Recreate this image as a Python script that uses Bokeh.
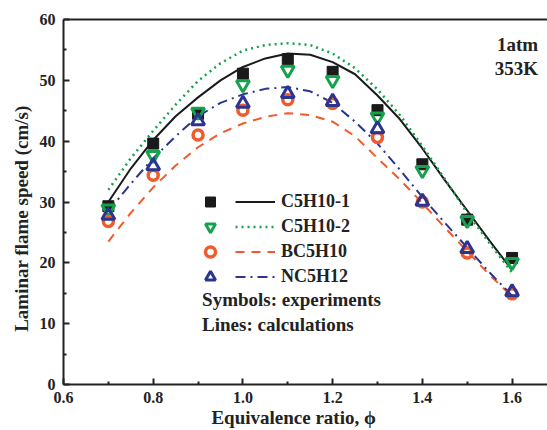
from bokeh.plotting import figure
from bokeh.models import (Range1d, FixedTicker, LinearAxis, Legend, LegendItem, Label,
                          PrintfTickFormatter)
from bokeh.embed import file_html
from bokeh.resources import INLINE

# ---------------- data ----------------
phi_exp = [0.7, 0.8, 0.9, 1.0, 1.1, 1.2, 1.3, 1.4, 1.5, 1.6]
exp_c5h10_1 = [29.3, 39.6, 44.5, 51.1, 53.5, 51.4, 45.1, 36.2, 27.1, 20.8]
exp_c5h10_2 = [28.9, 37.7, 44.8, 49.3, 51.7, 50.0, 44.0, 35.2, 27.0, 20.1]
exp_bc5h10 = [26.8, 34.4, 41.0, 45.1, 46.8, 46.2, 40.6, 30.0, 21.6, 14.9]
exp_nc5h12 = [27.8, 35.9, 43.3, 46.2, 47.8, 46.5, 42.0, 30.1, 22.3, 15.2]

phi_calc = [0.70, 0.75, 0.80, 0.85, 0.90, 0.95, 1.00, 1.05, 1.10, 1.15,
            1.20, 1.25, 1.30, 1.35, 1.40, 1.45, 1.50, 1.55, 1.60]
calc_c5h10_1 = [30.0, 35.5, 40.2, 44.1, 47.2, 50.0, 52.2, 53.6, 54.4, 54.2,
                53.0, 51.0, 47.5, 43.6, 38.8, 33.6, 28.6, 23.6, 18.8]
calc_c5h10_2 = [32.0, 37.2, 41.7, 46.0, 49.9, 52.8, 54.9, 55.8, 56.1, 55.8,
                54.4, 52.0, 48.5, 44.3, 39.2, 33.8, 28.2, 23.2, 18.4]
calc_bc5h10 = [23.5, 28.2, 32.4, 36.0, 39.0, 41.3, 42.9, 44.0, 44.6, 44.3,
               43.2, 40.8, 37.2, 33.7, 29.8, 25.8, 21.9, 18.0, 14.5]
calc_nc5h12 = [28.5, 33.0, 37.2, 40.8, 44.1, 46.3, 47.7, 48.6, 48.9, 48.2,
               46.3, 43.2, 39.6, 35.3, 30.8, 26.6, 22.5, 18.4, 14.6]

series_names = ["C5H10-1", "C5H10-2", "BC5H10", "NC5H12"]
x_major_ticks = [0.6, 0.8, 1.0, 1.2, 1.4, 1.6]
x_minor_ticks = [0.7, 0.9, 1.1, 1.3, 1.5]
y_major_ticks = [0, 10, 20, 30, 40, 50, 60]
y_minor_ticks = [5, 15, 25, 35, 45, 55]

# ---------------- style ----------------
FONT = "Liberation Serif"
BLACK = "#1a1a1a"
GREEN = "#14a24c"
RED = "#f15a2b"
BLUE = "#2b3590"
AX = "#222222"
NB = "\u00a0"

p = figure(width=547, height=430, output_backend="svg", toolbar_location=None,
           x_range=Range1d(0.6, 1.679), y_range=Range1d(0, 60),
           min_border_left=63, min_border_top=19, min_border_bottom=46,
           min_border_right=0)
p.outline_line_color = None
p.grid.visible = False
p.background_fill_color = "white"
p.border_fill_color = "white"

for ax, major, minor in ((p.xaxis[0], x_major_ticks, x_minor_ticks),
                         (p.yaxis[0], y_major_ticks, y_minor_ticks)):
    ax.ticker = FixedTicker(ticks=major, minor_ticks=minor)
    ax.major_tick_in = 6
    ax.major_tick_out = 0
    ax.minor_tick_in = 3
    ax.minor_tick_out = 0
    ax.axis_line_width = 2
    ax.axis_line_color = AX
    ax.major_tick_line_width = 2
    ax.major_tick_line_color = AX
    ax.minor_tick_line_width = 2
    ax.minor_tick_line_color = AX
    ax.major_label_text_font = FONT
    ax.major_label_text_font_style = "bold"
    ax.major_label_text_font_size = "16px"
    ax.major_label_text_color = AX
    ax.axis_label_text_font = FONT
    ax.axis_label_text_font_style = "bold"
    ax.axis_label_text_font_size = "19px"
    ax.axis_label_text_color = AX

p.xaxis.formatter = PrintfTickFormatter(format="%.1f")
p.xaxis.axis_label = "Equivalence ratio, \u03d5" + NB * 5
p.yaxis.axis_label = "Laminar flame speed (cm/s)" + NB * 7
p.xaxis.major_label_standoff = 7
p.xaxis.axis_label_standoff = 1
p.yaxis.major_label_standoff = 8
p.yaxis.axis_label_standoff = 5

top_axis = LinearAxis(major_label_text_font_size="0px", major_tick_line_color=None,
                      minor_tick_line_color=None, axis_line_width=2, axis_line_color=AX,
                      ticker=FixedTicker(ticks=[]))
p.add_layout(top_axis, "above")

# ---------------- calculations (lines) ----------------
l1 = p.line(phi_calc, calc_c5h10_1, line_color=BLACK, line_width=2)
l2 = p.line(phi_calc, calc_c5h10_2, line_color=GREEN, line_width=2.5, line_dash="2 4")
l3 = p.line(phi_calc, calc_bc5h10, line_color=RED, line_width=2, line_dash="9 7")
l4 = p.line(phi_calc, calc_nc5h12, line_color=BLUE, line_width=2, line_dash="10 5 2 5")

# ---------------- experiments (symbols) ----------------
m1 = p.scatter(phi_exp, exp_c5h10_1, marker="square", size=11,
               fill_color=BLACK, line_color=BLACK, line_width=1)
m2 = p.scatter(phi_exp, exp_c5h10_2, marker="inverted_triangle", size=13,
               fill_alpha=0, line_color=GREEN, line_width=3)
m3 = p.scatter(phi_exp, exp_bc5h10, marker="circle", size=10,
               fill_alpha=0, line_color=RED, line_width=3.5)
m4 = p.scatter(phi_exp, exp_nc5h12, marker="triangle", size=13,
               fill_alpha=0, line_color=BLUE, line_width=3)

common = dict(border_line_color=None, background_fill_alpha=0, margin=0, padding=0,
              glyph_height=25, label_height=25, spacing=0,
              label_text_font=FONT, label_text_font_style="bold",
              label_text_font_size="18px", label_text_color=AX,
              orientation="vertical")

leg_markers = Legend(items=[LegendItem(label=" ", renderers=[m]) for m in (m1, m2, m3, m4)],
                     location=(131, 95), glyph_width=32, label_standoff=0, **common)
leg_lines = Legend(items=[LegendItem(label=n, renderers=[l]) for n, l in
                          zip(series_names, (l1, l2, l3, l4))],
                   location=(172, 95), glyph_width=40, label_standoff=6, **common)
p.add_layout(leg_markers)
p.add_layout(leg_lines)

txt = dict(text_font=FONT, text_font_style="bold", text_font_size="19px",
           text_color=AX, text_baseline="middle")
p.add_layout(Label(x=0.909, y=14.0, text="Symbols: experiments", **txt))
p.add_layout(Label(x=0.909, y=9.9, text="Lines: calculations", **txt))
p.add_layout(Label(x=1.658, y=55.9, text="1atm", text_align="right", **txt))
p.add_layout(Label(x=1.658, y=51.9, text="353K", text_align="right", **txt))

open("out.html", "w").write(file_html(p, INLINE))
